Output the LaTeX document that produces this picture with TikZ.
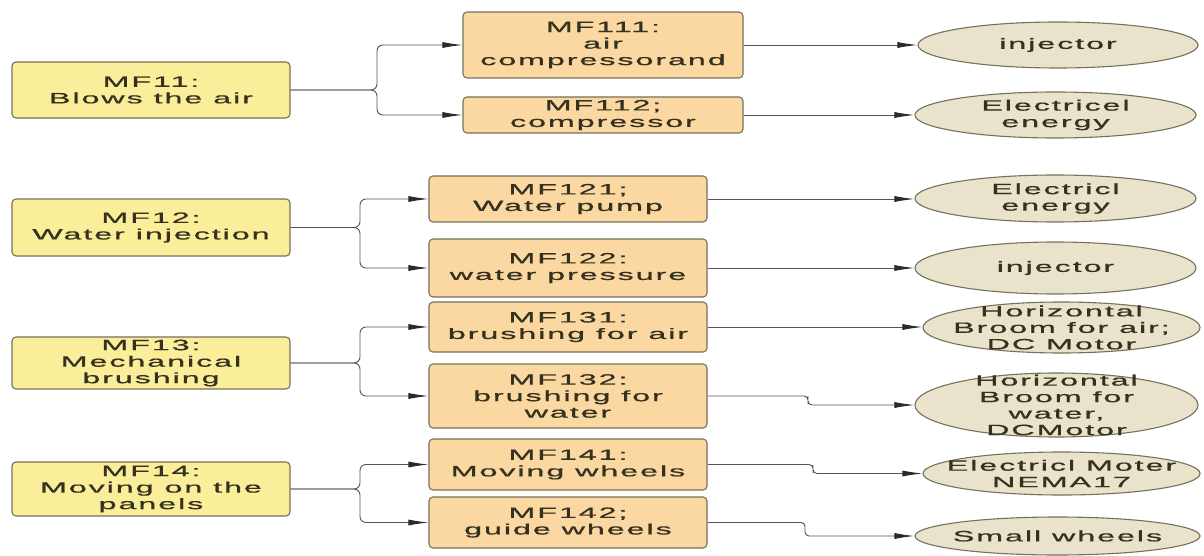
\documentclass[tikz,border=0pt]{standalone}
\usepackage{fontspec}
\usepackage{graphicx}
\newfontfamily\diagfont[LetterSpace=6,FakeBold=0.6]{Liberation Sans}
\newcommand\ws[1]{\scalebox{2.15}[1]{#1}}
\usetikzlibrary{shapes.geometric,arrows.meta}
\definecolor{yel}{HTML}{FBEE9A}
\definecolor{ora}{HTML}{FBD8A2}
\definecolor{bei}{HTML}{EAE3CB}
\definecolor{bord}{HTML}{77715A}
\definecolor{txt}{HTML}{34321F}
\definecolor{linec}{HTML}{555555}
\definecolor{headc}{HTML}{2A2A2A}
\begin{document}
\begin{tikzpicture}[x=1pt,y=-1pt,
  base/.style={draw=bord, line width=1.1pt, align=center, text=txt, inner sep=0pt,
    font=\diagfont\fontsize{15}{16.5}\selectfont},
  lbox/.style={base, fill=yel, rounded corners=4pt, minimum width=278pt},
  mbox/.style={base, fill=ora, rounded corners=4pt, minimum width=278pt},
  ell/.style={draw=bord, line width=1.1pt, fill=bei, ellipse, inner sep=0pt, minimum width=280pt},
  etext/.style={align=center, text=txt, inner sep=0pt, font=\diagfont\fontsize{15}{16.5}\selectfont},
  conn/.style={draw=linec, line width=0.9pt, -{Latex[length=20pt,width=6pt,color=headc]}, rounded corners=6pt},
  connr/.style={draw=linec, line width=0.9pt, -{Latex[length=20pt,width=6pt,color=headc]}, rounded corners=4pt}]
\fill[white] (0,0) rectangle (1204,556);
\useasboundingbox (0,0) rectangle (1204,556);

% left boxes
\node[lbox, minimum height=56pt] (L1) at (151,90) {\ws{MF11:}\\\ws{Blows the air}};
\node[lbox, minimum height=57pt] (L2) at (151,227.5) {\ws{MF12:}\\\ws{Water injection}};
\node[lbox, minimum height=52pt] (L3) at (151,363) {\ws{MF13:}\\\ws{Mechanical}\\\ws{brushing}};
\node[lbox, minimum height=54pt] (L4) at (151,489) {\ws{MF14:}\\\ws{Moving on the}\\\ws{panels}};

% middle boxes
\node[mbox, minimum width=280pt, minimum height=66pt] (M11) at (603,45) {\ws{MF111:}\\\ws{air}\\\ws{compressorand}};
\node[mbox, minimum width=280pt, minimum height=36pt] (M12) at (603,115) {\ws{MF112;}\\\ws{compressor}};
\node[mbox, minimum height=46pt] (M21) at (568,199) {\ws{MF121;}\\\ws{Water pump}};
\node[mbox, minimum height=58pt] (M22) at (568,268) {\ws{MF122:}\\\ws{water pressure}};
\node[mbox, minimum height=50pt] (M31) at (568,327) {\ws{MF131:}\\\ws{brushing for air}};
\node[mbox, minimum height=64pt] (M32) at (568,396) {\ws{MF132:}\\\ws{brushing for}\\\ws{water}};
\node[mbox, minimum height=51pt] (M41) at (568,464.5) {\ws{MF141:}\\\ws{Moving wheels}};
\node[mbox, minimum height=51pt] (M42) at (568,522.5) {\ws{MF142;}\\\ws{guide wheels}};

% right ellipses
\node[ell, minimum height=46pt] (R11) at (1058,45) {};
\node[ell, minimum width=281pt, minimum height=46pt] (R12) at (1055.5,115) {};
\node[ell, minimum width=281pt, minimum height=47pt] (R21) at (1055.5,198.5) {};
\node[ell, minimum width=281pt, minimum height=52pt] (R22) at (1055.5,268) {};
\node[ell, minimum width=277pt, minimum height=51pt] (R31) at (1061.5,327.5) {};
\node[ell, minimum width=283pt, minimum height=64pt] (R32) at (1056.5,405) {};
\node[ell, minimum width=277pt, minimum height=43pt] (R41) at (1061.5,473.5) {};
\node[ell, minimum width=285pt, minimum height=38pt] (R42) at (1057.5,536) {};
\node[etext] (R11t) at (R11) {\ws{injector}};
\node[etext] (R12t) at (R12) {\ws{Electricel}\\\ws{energy}};
\node[etext] (R21t) at (R21) {\ws{Electricl}\\\ws{energy}};
\node[etext] (R22t) at (R22) {\ws{injector}};
\node[etext] (R31t) at (R31) {\ws{Horizontal}\\\ws{Broom for air;}\\\ws{DC Motor}};
\node[etext] (R32t) at (R32) {\ws{Horizontal}\\\ws{Broom for}\\\ws{water,}\\\ws{DCMotor}};
\node[etext] (R41t) at (R41) {\ws{Electricl Moter}\\\ws{NEMA17}};
\node[etext] (R42t) at (R42) {\ws{Small wheels}};

% bracket points
\coordinate (b1) at (377,90);
\coordinate (b2) at (360,227.5);
\coordinate (b3) at (360,363);
\coordinate (b4) at (360,489);

\draw[conn] (L1.east) -- (b1) |- (M11.west);
\draw[conn] (L1.east) -- (b1) |- (M12.west);
\draw[conn] (L2.east) -- (b2) |- (M21.west);
\draw[conn] (L2.east) -- (b2) |- (M22.west);
\draw[conn] (L3.east) -- (b3) |- (M31.west);
\draw[conn] (L3.east) -- (b3) |- (M32.west);
\draw[conn] (L4.east) -- (b4) |- (M41.west);
\draw[conn] (L4.east) -- (b4) |- (M42.west);

% right connectors
\draw[connr] (M11.east) -- (M11.east -| R11.west);
\draw[connr] (M12.east) -- (M12.east -| R12.west);
\draw[connr] (M21.east) -- (M21.east -| R21.west);
\draw[connr] (M22.east) -- (M22.east -| R22.west);
\draw[connr] (M31.east) -- (M31.east -| R31.west);
\coordinate (j32) at (808,400);
\coordinate (j41) at (813,469);
\coordinate (j42) at (805,529);
\draw[connr] (M32.east) -| (j32) |- (R32.west);
\draw[connr] (M41.east) -| (j41) |- (R41.west);
\draw[connr] (M42.east) -| (j42) |- (R42.west);
\end{tikzpicture}
\end{document}
